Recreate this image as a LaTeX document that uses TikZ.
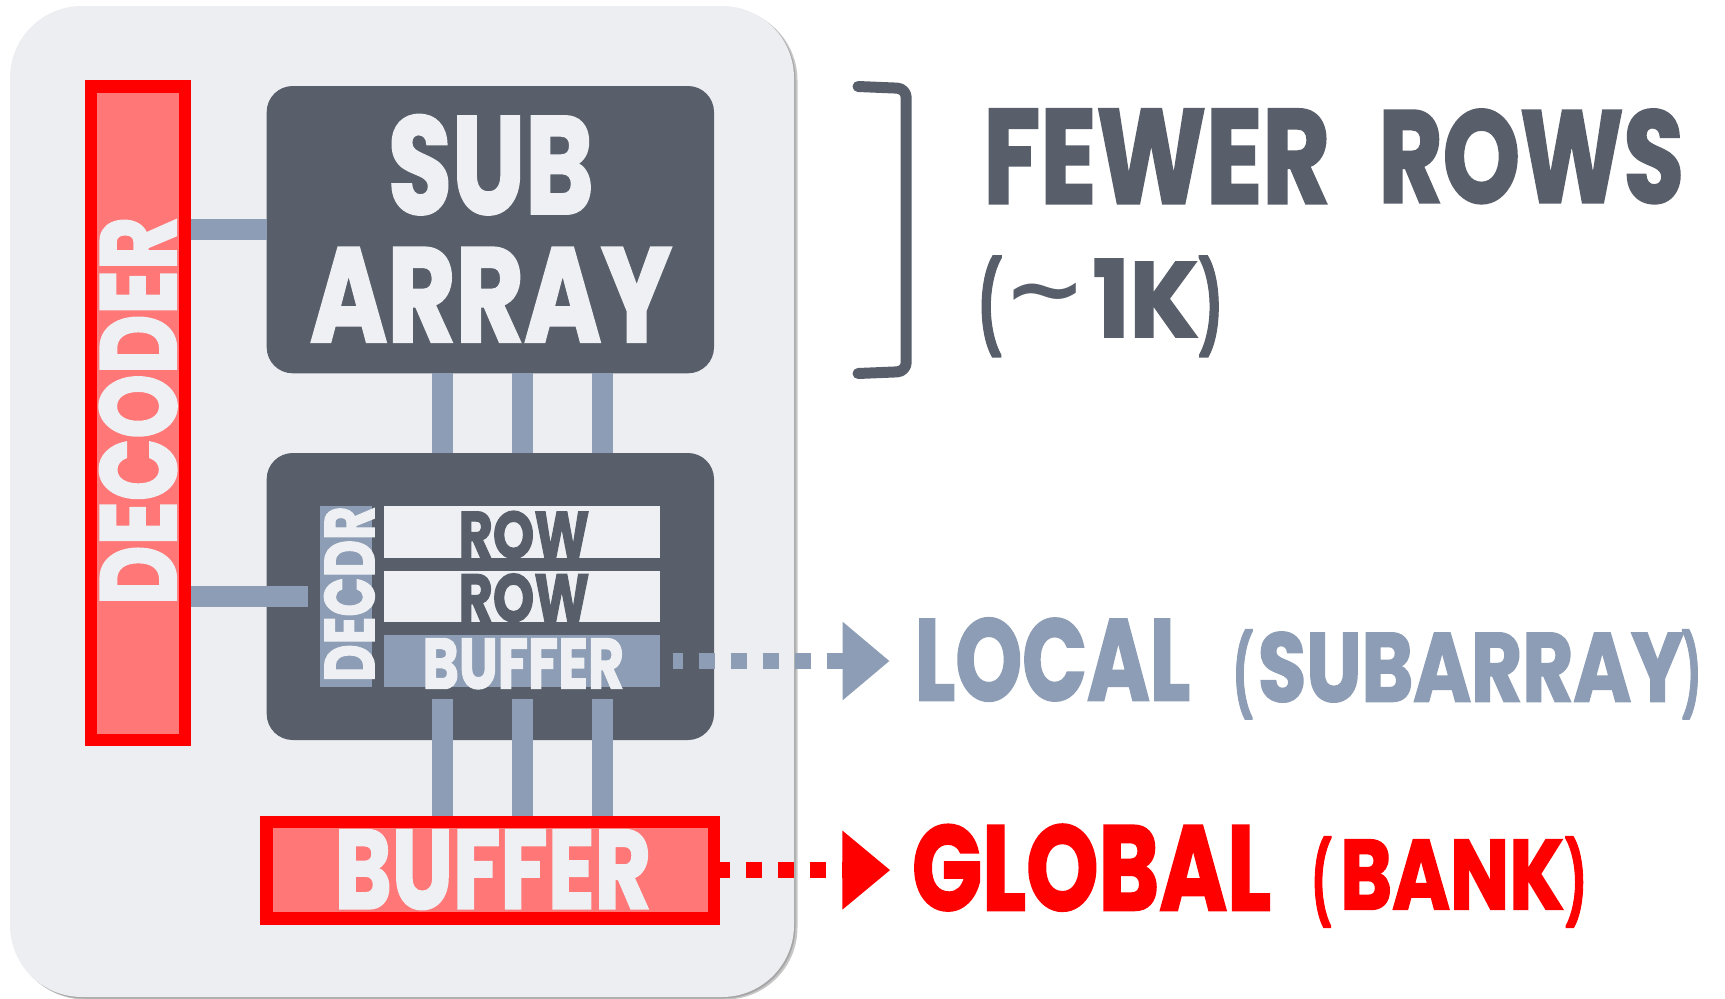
\documentclass[tikz,border=0pt]{standalone}
\usepackage{fontspec}
\setmainfont{Poppins}
\newfontfamily\heavy{Poppins}[FakeBold=2]
\newfontfamily\symfont{DejaVu Sans}
\usepackage{graphicx}

\definecolor{panelbg}{HTML}{EDEEF2}
\definecolor{slate}{HTML}{585F6A}
\definecolor{steel}{HTML}{8C9DB5}
\definecolor{paper}{HTML}{EEF0F3}
\definecolor{alarm}{HTML}{FF0000}
\definecolor{salmon}{HTML}{FF7777}

% squeeze a bold word into a box of given width and total height (pt)
\newcommand\fitto[3]{\resizebox*{#1pt}{#2pt}{\heavy\bfseries #3}}

\begin{document}
\begin{tikzpicture}[x=1pt,y=-1pt,
  redbox/.style={draw=alarm, line width=12.5pt, fill=salmon, inner sep=0pt},
  slab/.style={fill=slate, rounded corners=26pt, inner sep=0pt, outer sep=0pt},
  strip/.style={inner sep=0pt, outer sep=0pt},
  word/.style={inner sep=0pt, outer sep=0pt, anchor=north west},
  sideword/.style={inner sep=0pt, outer sep=0pt, rotate=90},
  bus/.style={draw=steel, line width=21pt},
  dotl/.style={draw=steel, line width=16pt, dash pattern=on 16pt off 16pt, dash phase=6pt},
  dotg/.style={draw=alarm, line width=15.5pt, dash pattern=on 16pt off 16pt, dash phase=6pt},
  bracket/.style={draw=slate, line width=11pt, line cap=round, line join=round, rounded corners=9pt}]

\useasboundingbox (0,0) rectangle (1725,999);
\fill[white] (0,0) rectangle (1725,999);

% bank panel with a soft drop shadow
\fill[black!22, rounded corners=72pt] (13,8.5) rectangle (797.5,999.5);
\fill[black!35, rounded corners=72pt] (12,7.5) rectangle (795.5,998.5);
\node[strip, fill=panelbg, rounded corners=72pt, minimum width=784pt, minimum height=991pt] (panel) at (402,501.5) {};

% global row decoder and global buffer
\node[redbox, minimum width=94.2pt, minimum height=653.5pt] (gdec) at (138.05,413) {};
\node[redbox, minimum width=447.5pt, minimum height=96.3pt] (gbuf) at (490,870.1) {};

% subarray and its local row logic
\node[slab, minimum width=447.3pt, minimum height=287.3pt] (sub) at (490.35,229.65) {};
\node[slab, minimum width=447.3pt, minimum height=287pt] (lsa) at (490.35,596.5) {};
\node[strip, fill=steel, minimum width=52.4pt, minimum height=180.1pt] (ldec) at (346.2,596.45) {};
\node[strip, fill=paper, minimum width=275.6pt, minimum height=51.6pt] (row1) at (522.2,532.2) {};
\node[strip, fill=paper, minimum width=275.6pt, minimum height=51.5pt] (row2) at (522.2,596.25) {};
\node[strip, fill=steel, minimum width=275.6pt, minimum height=52pt] (lbuf) at (522.2,661) {};

% wires
\draw[bus, line width=20.7pt] (gdec.east |- 0,229.7) -- (sub.west |- 0,229.7);
\draw[bus, line width=21.4pt] (gdec.east |- ldec.west) -- ([xshift=-12.5pt]ldec.west);
\foreach \x in {442,522,602} {
  \draw[bus] (sub.south -| \x,0) -- (lsa.north -| \x,0);
  \draw[bus] ([yshift=-11.6pt]lbuf.south -| \x,0) -- (gbuf.north -| \x,0);
}

% labels inside the blocks
\node[sideword, text=paper] (gdect) at (138.1,410.9) {\fitto{388.3}{77.4}{DECODER}};
\node[word, text=paper] (subt) at (388,115) {\fitto{205.6}{99.5}{SUB}};
\node[word, text=paper] (arrt) at (310,247.7) {\fitto{361.5}{94}{ARRAY}};
\node[sideword, text=paper] (ldect) at (349.4,594.1) {\fitto{175.4}{50.2}{DECDR}};
\node[word, text=slate] (row1t) at (458.7,511) {\fitto{130.7}{47.6}{ROW}};
\node[word, text=slate] (row2t) at (458.7,573.6) {\fitto{130.7}{48.5}{ROW}};
\node[word, text=paper] (lbuft) at (422.6,638.6) {\fitto{201.4}{50.4}{BUFFER}};
\node[word, text=paper] (gbuft) at (334.7,830) {\fitto{316.4}{79.3}{BUFFER}};

% bracket and row count note
\draw[bracket] (858,86.5) -- (906.2,88.5) -- (906.2,371.5) -- (858,373.5);
\node[word, text=slate] (fewer) at (983.3,109.3) {\fitto{346.7}{94}{FEWER}};
\node[word, text=slate] (rows) at (1378.6,109.3) {\fitto{305.2}{94}{ROWS}};
\node[word, text=slate] (kopen) at (977.7,256) {\fitto{24}{100.7}{(}};
\node[word, text=slate] (ktilde) at (1003,283.3) {\resizebox*{71.3pt}{35.4pt}{\symfont\bfseries\char"7E\kern-1.2pt}};
\node[word, text=slate] (kone) at (1092.7,259.3) {\fitto{105.6}{77.4}{1K}};
\node[word, text=slate] (kclose) at (1198.7,256) {\fitto{24}{100.7}{)}};

% local path
\coordinate (tipL) at (842.7,661);
\draw[dotl] ([xshift=12.7pt]lbuf.east) -- (tipL);
\fill[steel] (tipL) ++(0,-39.2) -- ++(46.6,39.2) -- ++(-46.6,39.2) -- cycle;
\node[word, text=steel] (localt) at (914.7,618) {\fitto{275.5}{83}{LOCAL}};
\node[word, text=steel] (lopen) at (1232.8,629.6) {\fitto{20}{89.4}{(}};
\node[word, text=steel] (lsubt) at (1258,632) {\fitto{425.6}{70}{SUBARRAY}};
\node[word, text=steel] (lclose) at (1682,629.6) {\fitto{19}{89.4}{)}};

% global path
\coordinate (tipG) at (842.3,870.1);
\draw[dotg] (gbuf.east) -- (tipG);
\fill[alarm] (tipG) ++(0,-39.6) -- ++(47.7,39.6) -- ++(-47.7,39.6) -- cycle;
\node[word, text=alarm] (globalt) at (912,824.4) {\fitto{359}{86.5}{GLOBAL}};
\node[word, text=alarm] (gopen) at (1311.4,836.6) {\fitto{20}{90.8}{(}};
\node[word, text=alarm] (bankt) at (1340.3,839.9) {\fitto{223.6}{69.3}{BANK}};
\node[word, text=alarm] (gclose) at (1565.3,836.6) {\fitto{21.4}{90.8}{)}};
\end{tikzpicture}
\end{document}
